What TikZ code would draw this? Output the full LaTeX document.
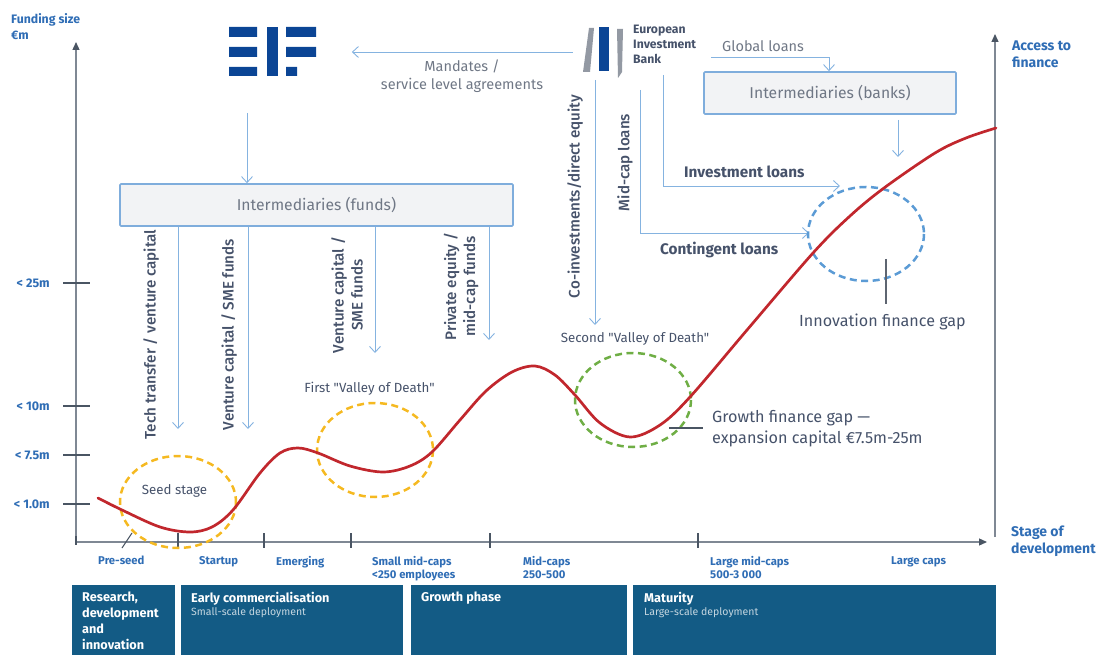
\documentclass[tikz,border=0pt]{standalone}
\usepackage{fontspec}
\setmainfont{Fira Sans}
\newfontfamily\medfont{Fira Sans Medium}
\newfontfamily\plainfont{Fira Sans}
\usetikzlibrary{arrows.meta,calc}
\definecolor{linkblue}{HTML}{85B3E0}
\definecolor{boxedge}{HTML}{7FADDC}
\definecolor{boxfill}{HTML}{F2F3F5}
\definecolor{axisgrey}{HTML}{7F8894}
\definecolor{axisdark}{HTML}{4A5563}
\definecolor{headblue}{HTML}{2F6DB5}
\definecolor{labelgrey}{HTML}{46526A}
\definecolor{softgrey}{HTML}{6F7785}
\definecolor{banner}{HTML}{135B85}
\definecolor{logoblue}{HTML}{0B4595}
\definecolor{curvered}{HTML}{C1272D}
\definecolor{ringyellow}{HTML}{F5B921}
\definecolor{ringgreen}{HTML}{6FAE45}
\definecolor{ringblue}{HTML}{5B9BD5}
\tikzset{
  x=1pt,y=-1pt,
  link/.style={draw=linkblue,line width=0.9pt,-{Straight Barb[length=6pt,width=11pt]}},
  axisline/.style={draw=axisgrey,line width=1.3pt},
  axisarrow/.style={axisline,-{Triangle[length=8pt,width=7pt,fill=axisdark,color=axisdark]}},
  tickmark/.style={draw=axisdark,line width=1.1pt},
  gapmark/.style={draw=softgrey!85!black,line width=2pt},
  interbox/.style={draw=boxedge,fill=boxfill,line width=1.6pt,rounded corners=1pt,text=softgrey,font=\fontsize{15.7}{18}\selectfont,inner sep=0pt},
  ring/.style={line width=2.5pt,dash pattern=on 7pt off 4.5pt},
  txt/.style={inner sep=0pt,text=labelgrey},
  rot/.style={txt,rotate=90,align=center,font=\medfont\fontsize{15.2}{19}\selectfont},
  head/.style={inner sep=0pt,anchor=west,text=headblue,font=\bfseries\fontsize{14}{17}\selectfont,align=left},
  yval/.style={inner sep=0pt,anchor=east,text=headblue,font=\bfseries\fontsize{12.5}{14}\selectfont},
  stagelabel/.style={inner sep=0pt,anchor=north west,text=headblue,font=\bfseries\fontsize{11.3}{13}\selectfont,align=left},
  wtitle/.style={inner sep=0pt,anchor=north west,text=white,font=\bfseries\fontsize{12.7}{16}\selectfont,align=left},
  wsub/.style={inner sep=0pt,anchor=north west,text=white!75!banner,font=\fontsize{10.5}{12}\selectfont},
}
\begin{document}
\begin{tikzpicture}
\useasboundingbox (0,0) rectangle (1098,655);
% bottom banners
\fill[banner] (72,585) rectangle (175,655);
\fill[banner] (181,585) rectangle (403,655);
\fill[banner] (411,585) rectangle (627,655);
\fill[banner] (633,585) rectangle (996,655);
\node[wtitle] (bRD) at (82,592) {Research,\\development\\and\\innovation};
\node[wtitle] (bEC) at (191,592) {Early commercialisation};
\node[wsub] (bECs) at (191,607) {Small-scale deployment};
\node[wtitle] (bGP) at (421,592) {Growth phase};
\node[wtitle] (bMA) at (644,592) {Maturity};
\node[wsub] (bMAs) at (644,607) {Large-scale deployment};
% axes
\coordinate (origin) at (76,542);
\coordinate (ytop) at (76,42);
\coordinate (xend) at (987,542);
\coordinate (rbot) at (995,537);
\coordinate (rtop) at (995,34);
\draw[axisarrow] (origin) -- (ytop);
\draw[axisarrow] (origin) -- (xend);
\draw[axisarrow] (rbot) -- (rtop);
% y ticks
\foreach \n/\yy/\lab in {a/283/{< 25m},b/406/{< 10m},c/455/{< 7.5m},d/504/{< 1.0m}}{
  \draw[tickmark] (63,\yy) -- (90,\yy);
  \node[yval] (y\n) at (50,\yy) {\lab};
}
% x ticks
\foreach \xx in {178,264,351,490,698}{\draw[tickmark] (\xx,533) -- (\xx,548);}
\draw[tickmark] (132,533) -- (122,548);
\draw[tickmark] (76,536) -- (76,545);
% axis titles
\node[head,font=\bfseries\fontsize{12.3}{15.5}\selectfont] (fund) at (11,26.5) {Funding size\\€m};
\node[head] (acc) at (1012,54.5) {Access to\\finance};
\node[head] (stg) at (1011,541) {Stage of\\development};
% stage labels
\node[stagelabel] (s1) at (98,556) {Pre-seed};
\node[stagelabel] (s2) at (199,556) {Startup};
\node[stagelabel] (s3) at (276,556) {Emerging};
\node[stagelabel] (s4) at (372,556) {Small mid-caps\\<250 employees};
\node[stagelabel] (s5) at (523,556) {Mid-caps\\250-500};
\node[stagelabel] (s6) at (710,556) {Large mid-caps\\500-3 000};
\node[stagelabel] (s7) at (891,556) {Large caps};
% EIF logo
\node[inner sep=0pt,minimum width=87pt,minimum height=49pt] (eif) at (272.5,52) {};
\fill[logoblue] (229,27) rectangle (257,37) (229,47) rectangle (257,57) (229,67) rectangle (257,76);
\fill[logoblue] (267,27) rectangle (278,76);
\fill[logoblue] (286,27) rectangle (316,37) (286,47) rectangle (316,57) (286,67) rectangle (297,76);
% EIB logo
\node[inner sep=0pt,minimum width=120pt,minimum height=50pt] (eib) at (633,52) {};
\fill[softgrey!75!white] (589,28) -- (594,28) -- (590,72) -- (583,72) -- cycle;
\fill[logoblue] (599,27) rectangle (609,71);
\fill[softgrey!75!white] (617,29) -- (623,29) -- (622,72) -- (618,78) -- cycle;
\node[inner sep=0pt,anchor=north west,text=labelgrey,align=left,font=\bfseries\fontsize{12.2}{15}\selectfont] (eibtxt) at (633,25) {European\\Investment\\Bank};
% intermediary boxes
\node[interbox,minimum width=393pt,minimum height=42pt] (funds) at (316.5,205) {Intermediaries (funds)};
\node[interbox,minimum width=252pt,minimum height=42pt] (banks) at (830,93) {Intermediaries (banks)};
% connectors
\draw[link] (eib.west) -- ++(-221,0) coordinate (mandEnd);
\coordinate (eifout) at (247,113);
\draw[link] (eifout) -- (eifout |- funds.north);
\coordinate (t1) at (178,429);
\coordinate (t2) at (248,429);
\coordinate (t3) at (375,353);
\coordinate (t4) at (489,340);
\draw[link] (t1 |- funds.south) -- (t1);
\draw[link] (t2 |- funds.south) -- (t2);
\draw[link] (t3 |- funds.south) -- (t3);
\draw[link] (t4 |- funds.south) -- (t4);
\coordinate (coS) at (595,80);
\coordinate (coE) at (595,325);
\draw[link] (coS) -- (coE);
\coordinate (invS) at (663,75);
\coordinate (invE) at (840,186);
\draw[link] (invS) |- (invE);
\coordinate (conS) at (640,90);
\coordinate (conE) at (809,233);
\draw[link] (conS) |- (conE);
\coordinate (gloS) at (711,57);
\coordinate (gloX) at (829,57);
\draw[link] (gloS) -- (gloX) -- (gloX |- banks.north);
\coordinate (bk1) at (898,157);
\draw[link] (bk1 |- banks.south) ++(0,5) -- (bk1);
% rings
\draw[ring,draw=ringyellow] (178,502) ellipse [x radius=58,y radius=46];
\draw[ring,draw=ringyellow] (375,450) ellipse [x radius=58,y radius=47];
\draw[ring,draw=ringgreen] (633,400) ellipse [x radius=58,y radius=47];
\draw[ring,draw=ringblue] (866,234) ellipse [x radius=58,y radius=47];
% curve
\draw[curvered,line width=2.7pt,line cap=round] plot[smooth,tension=0.55] coordinates {(98,498) (122,510) (160,527) (190,532) (212,527) (233,510) (260,473) (280,453) (298,448) (318,453) (350,466) (383,472) (410,466) (432,452) (460,420) (486,391) (512,372) (535,366) (555,375) (575,395) (600,423) (630,437) (660,425) (690,397) (747,330) (813,253) (850,216) (884,188) (935,153) (966,138) (996,128)};
% gap marks
\draw[gapmark] (886,259) -- (886,304);
\draw[tickmark,line width=1.6pt] (669,428) -- (703,428);
% rotated labels
\node[rot] (r1) at (151,334.5) {Tech transfer / venture capital};
\node[rot] (r2) at (229,334.5) {Venture capital / SME funds};
\node[rot] (r3) at (347,295) {Venture capital /\\SME funds};
\node[rot] (r4) at (461,286.5) {Private equity /\\mid-cap funds};
\node[rot] (r5) at (575,196.5) {Co-investments/direct equity};
\node[rot] (r6) at (625,162.5) {Mid-cap loans};
% labels
\node[txt,align=center,font=\fontsize{14.5}{18}\selectfont,text=softgrey] (mand) at (462,76) {Mandates /\\service level agreements};
\node[txt,anchor=west,font=\fontsize{14.5}{17}\selectfont,text=softgrey] (glob) at (722,46) {Global loans};
\node[txt,anchor=west,font=\bfseries\fontsize{15.3}{17}\selectfont] (inv) at (684,172) {Investment loans};
\node[txt,anchor=west,font=\bfseries\fontsize{15.3}{17}\selectfont] (con) at (660,250) {Contingent loans};
\node[txt,font=\fontsize{13.3}{16}\selectfont] (seed) at (174.5,491) {Seed stage};
\node[txt,font=\plainfont\fontsize{13.3}{16}\selectfont] (v1) at (369.5,389) {First "Valley of Death"};
\node[txt,font=\plainfont\fontsize{13.3}{16}\selectfont] (v2) at (635,339) {Second "Valley of Death"};
\node[txt,anchor=west,font=\fontsize{16.1}{19}\selectfont] (igap) at (799,322) {Innovation finance gap};
\node[txt,anchor=west,align=left,font=\fontsize{16.2}{21.5}\selectfont] (ggap) at (712,428.5) {Growth finance gap —\\expansion capital €7.5m-25m};
\end{tikzpicture}
\end{document}
